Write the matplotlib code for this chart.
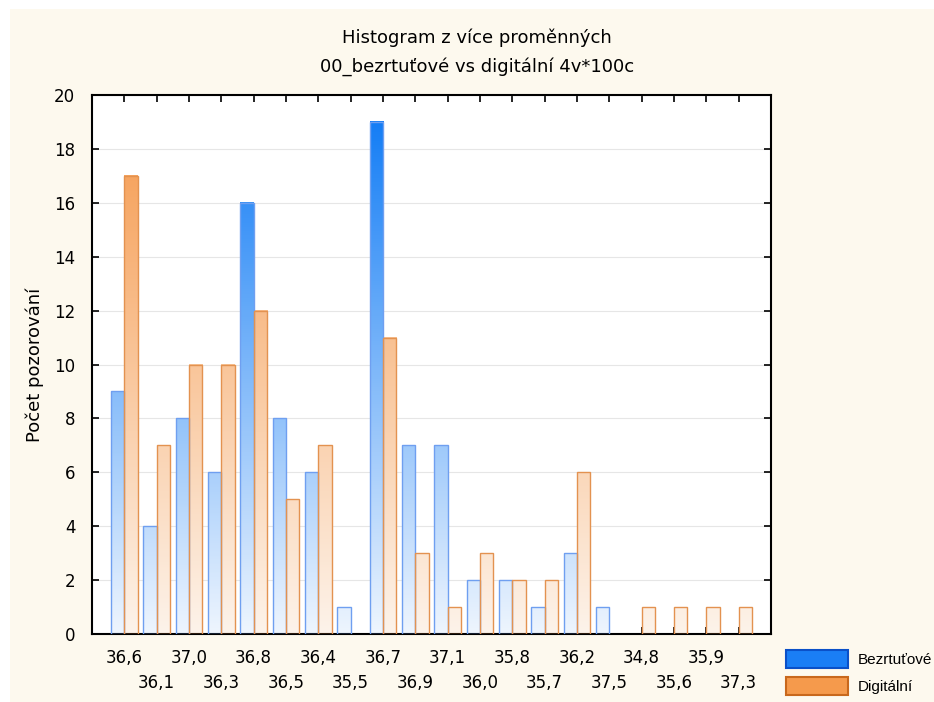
import matplotlib
matplotlib.use("Agg")
import matplotlib.pyplot as plt
import numpy as np
from matplotlib.colors import LinearSegmentedColormap
from matplotlib.patches import Rectangle

plt.rcParams['font.family'] = ['DejaVu Sans']

categories = ['36,6', '36,1', '37,0', '36,3', '36,8', '36,5', '36,4', '35,5', '36,7', '36,9',
              '37,1', '36,0', '35,8', '35,7', '36,2', '37,5', '34,8', '35,6', '35,9', '37,3']
bezrtutove = [9, 4, 8, 6, 16, 8, 6, 1, 19, 7, 7, 2, 2, 1, 3, 1, 0, 0, 0, 0]
digitalni = [17, 7, 10, 10, 12, 5, 7, 0, 11, 3, 1, 3, 2, 2, 6, 0, 1, 1, 1, 1]
series_names = ['Bezrtuťové', 'Digitální']

YMAX = 20
blue_cmap = LinearSegmentedColormap.from_list('b', ['#eef5fe', '#0a78f5'])
orange_cmap = LinearSegmentedColormap.from_list('o', ['#fdf3ea', '#f5984a'])

fig = plt.figure(figsize=(9.34, 7.02), dpi=100)
fig.patch.set_facecolor('white')
fig.patches.append(Rectangle((10 / 934, 0), 1, 1 - 9 / 702, transform=fig.transFigure,
                             facecolor='#fdf9ee', edgecolor='none', zorder=-10))

ax = fig.add_axes([92 / 934, 1 - 634 / 702, (771 - 92) / 934, (634 - 95) / 702])
ax.set_facecolor('white')

x = np.arange(len(categories))
w = 0.41


def gradient_bars(xpos, vals, cmap, edge):
    bars = ax.bar(xpos, vals, w, align='edge', facecolor='none', edgecolor=edge,
                  linewidth=1.0, zorder=3)
    for b, v in zip(bars, vals):
        if v <= 0:
            b.set_visible(False)
            continue
        grad = np.linspace(0, v, 100).reshape(-1, 1)
        ax.imshow(grad, cmap=cmap, vmin=0, vmax=YMAX, origin='lower', aspect='auto',
                  extent=(b.get_x(), b.get_x() + b.get_width(), 0, v), zorder=2,
                  interpolation='bilinear')
    return bars


gradient_bars(x - w, bezrtutove, blue_cmap, '#6f9ff0')
gradient_bars(x, digitalni, orange_cmap, '#e39250')

ax.set_xlim(-1, 20)
ax.set_ylim(0, YMAX)
ax.set_yticks(np.arange(0, 21, 2))
ax.yaxis.grid(True, color='#e6e6e6', linewidth=0.8, zorder=0)
ax.set_axisbelow(True)

# staggered labels: even categories on major ticks, odd ones on minor ticks one row lower
ax.set_xticks(x[::2])
ax.set_xticklabels(categories[::2])
ax.set_xticks(x[1::2], minor=True)
ax.set_xticklabels(categories[1::2], minor=True)
ax.tick_params(axis='both', which='both', direction='in', top=True, right=True, length=5,
               width=1.2, labelsize=12)
ax.tick_params(axis='x', which='major', pad=11)
ax.tick_params(axis='x', which='minor', pad=29)
ax.tick_params(axis='y', pad=12)
for s in ax.spines.values():
    s.set_linewidth(1.5)

ax.set_ylabel('Počet pozorování', fontsize=13, labelpad=7)

fig.text(477 / 934, 1 - 38 / 702, 'Histogram z více proměnných', ha='center', va='center', fontsize=13)
fig.text(477 / 934, 1 - 67 / 702, '00_bezrtuťové vs digitální 4v*100c', ha='center', va='center', fontsize=13)

handles = [Rectangle((0, 0), 1, 1, facecolor='#1a7ef5', edgecolor='#0a50c8', linewidth=1.5),
           Rectangle((0, 0), 1, 1, facecolor='#f59a4c', edgecolor='#c8681c', linewidth=1.5)]
fig.legend(handles, series_names, loc='upper left', bbox_to_anchor=(786 / 934, 1 - 650 / 702),
           frameon=False, prop={'family': 'Liberation Sans', 'size': 11},
           handlelength=4.05, handleheight=1.45, handletextpad=0.65,
           labelspacing=0.58, borderpad=0, borderaxespad=0)

fig.savefig('out.png', dpi=100, facecolor=fig.get_facecolor())
